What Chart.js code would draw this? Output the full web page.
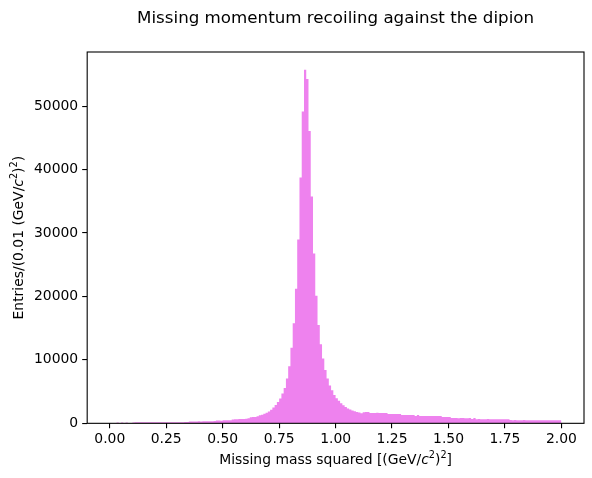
<!DOCTYPE html>
<html>
<head>
<meta charset="utf-8">
<script src="https://cdn.jsdelivr.net/npm/chart.js@4.4.1/dist/chart.umd.min.js"></script>
<style>
  html, body { margin: 0; padding: 0; background: #fff; }
</style>
</head>
<body>
<canvas id="histChart" width="592" height="478"></canvas>
<script>
// histogram: 200 bins of 0.01 from 0.00 to 2.00
const binStart = 0.0;
const binWidth = 0.01;

const counts = [
    // 0.00 - 0.09
    0, 0, 0, 0, 120, 0, 110, 0, 110, 0,
    // 0.10 - 0.19
    0, 140, 150, 150, 160, 150, 150, 160, 150, 160,
    // 0.20 - 0.29
    160, 150, 160, 170, 160, 160, 170, 160, 170, 170,
    // 0.30 - 0.39
    180, 170, 180, 180, 190, 190, 280, 290, 300, 300,
    // 0.40 - 0.49
    310, 300, 310, 320, 320, 330, 340, 350, 450, 460,
    // 0.50 - 0.59
    420, 470, 480, 480, 500, 600, 630, 660, 680, 680,
    // 0.60 - 0.69
    700, 740, 790, 950, 980, 1000, 1100, 1270, 1350, 1500,
    // 0.70 - 0.79
    1650, 1850, 2150, 2500, 2900, 3350, 3900, 4700, 5550, 7050,
    // 0.80 - 0.89
    9000, 11900, 15770, 21200, 28960, 38770, 49160, 55750, 54270, 46090,
    // 0.90 - 0.99
    35760, 26790, 20100, 15510, 12450, 10230, 8390, 7070, 5980, 5200,
    // 1.00 - 1.09
    4480, 3950, 3560, 3150, 2850, 2580, 2350, 2180, 2020, 1920,
    // 1.10 - 1.19
    1800, 1700, 1600, 1750, 1790, 1790, 1640, 1630, 1620, 1650,
    // 1.20 - 1.29
    1630, 1610, 1640, 1620, 1480, 1470, 1460, 1480, 1470, 1450,
    // 1.30 - 1.39
    1310, 1320, 1300, 1310, 1300, 1310, 1160, 1310, 1160, 1170,
    // 1.40 - 1.49
    1150, 1160, 1170, 1150, 1160, 1150, 1160, 1140, 990, 1000,
    // 1.50 - 1.59
    980, 990, 820, 830, 820, 810, 830, 820, 810, 800,
    // 1.60 - 1.69
    820, 680, 830, 660, 670, 650, 660, 650, 670, 660,
    // 1.70 - 1.79
    650, 660, 640, 650, 660, 650, 640, 650, 510, 500,
    // 1.80 - 1.89
    510, 500, 490, 500, 510, 500, 490, 500, 500, 490,
    // 1.90 - 1.99
    500, 490, 500, 490, 480, 490, 500, 490, 480, 490
];

const xTicks = [0.0, 0.25, 0.5, 0.75, 1.0, 1.25, 1.5, 1.75, 2.0];
const yTicks = [0, 10000, 20000, 30000, 40000, 50000];

const titleText = 'Missing momentum recoiling against the dipion';
// label pieces: [text, style]  style: n = normal, i = italic, s = superscript
const xLabelParts = [['Missing mass squared [(GeV/', 'n'], ['c', 'i'], ['2', 's'], [')', 'n'], ['2', 's'], [']', 'n']];
const yLabelParts = [['Entries/(0.01 (GeV/', 'n'], ['c', 'i'], ['2', 's'], [')', 'n'], ['2', 's'], [')', 'n']];

const FONT = 'DejaVu Sans';

// step outline: one point at each bin's left edge, plus the closing right edge
const points = counts.map(function(c, i) {
    return { x: binStart + i * binWidth, y: c };
});
points.push({ x: binStart + counts.length * binWidth, y: counts[counts.length - 1] });

function partFont(style, size) {
    if (style === 'i') return 'italic ' + size + 'px "' + FONT + '"';
    if (style === 's') return Math.round(size * 0.7 * 10) / 10 + 'px "' + FONT + '"';
    return size + 'px "' + FONT + '"';
}

// draws a label made of pieces, centred at (0,0) of the current transform
function drawParts(ctx, parts, size) {
    let total = 0;
    parts.forEach(function(p) {
        ctx.font = partFont(p[1], size);
        total += ctx.measureText(p[0]).width;
    });
    let x = -total / 2;
    ctx.textBaseline = 'alphabetic';
    ctx.textAlign = 'left';
    parts.forEach(function(p) {
        ctx.font = partFont(p[1], size);
        const dy = p[1] === 's' ? -size * 0.42 : 0;
        ctx.fillText(p[0], x, size * 0.36 + dy);
        x += ctx.measureText(p[0]).width;
    });
}

const mplFrame = {
    id: 'mplFrame',
    afterDraw: function(chart) {
        const ctx = chart.ctx;
        const a = chart.chartArea;
        ctx.save();
        ctx.strokeStyle = '#000';
        ctx.lineWidth = 1.1;
        ctx.strokeRect(a.left, a.top, a.right - a.left, a.bottom - a.top);

        ctx.fillStyle = '#000';
        const cx = (a.left + a.right) / 2;

        ctx.font = '16.7px "' + FONT + '"';
        ctx.textAlign = 'center';
        ctx.textBaseline = 'middle';
        ctx.fillText(titleText, cx, 19);

        ctx.save();
        ctx.translate(cx, 459);
        drawParts(ctx, xLabelParts, 13.9);
        ctx.restore();

        ctx.save();
        ctx.translate(18, (a.top + a.bottom) / 2);
        ctx.rotate(-Math.PI / 2);
        drawParts(ctx, yLabelParts, 13.9);
        ctx.restore();

        ctx.restore();
    }
};

Chart.defaults.font.family = FONT;
Chart.defaults.font.size = 13.9;
Chart.defaults.color = '#000';

const ctx = document.getElementById('histChart').getContext('2d');
const histChart = new Chart(ctx, {
    type: 'line',
    data: {
        datasets: [{
            data: points,
            stepped: 'after',
            fill: 'origin',
            backgroundColor: '#ee82ee',
            borderColor: '#ee82ee',
            borderWidth: 0,
            pointRadius: 0,
            pointHoverRadius: 0
        }]
    },
    options: {
        responsive: false,
        animation: false,
        devicePixelRatio: 1,
        layout: { padding: { left: 30, right: 8, top: 52, bottom: 27 } },
        plugins: {
            legend: { display: false },
            tooltip: { enabled: false }
        },
        scales: {
            x: {
                type: 'linear',
                min: binStart - 0.1,
                max: binStart + counts.length * binWidth + 0.1,
                afterBuildTicks: function(axis) {
                    axis.ticks = xTicks.map(function(v) { return { value: v }; });
                },
                ticks: {
                    autoSkip: false,
                    maxRotation: 0,
                    padding: 3,
                    callback: function(v) { return Number(v).toFixed(2); }
                },
                grid: {
                    drawOnChartArea: false,
                    drawTicks: true,
                    tickLength: 5,
                    color: '#000',
                    lineWidth: 1.1
                },
                border: { display: false }
            },
            y: {
                min: 0,
                max: Math.max.apply(null, counts) * 1.05,
                afterBuildTicks: function(axis) {
                    axis.ticks = yTicks.map(function(v) { return { value: v }; });
                },
                ticks: {
                    padding: 4,
                    callback: function(v) { return String(v); }
                },
                grid: {
                    drawOnChartArea: false,
                    drawTicks: true,
                    tickLength: 5,
                    color: '#000',
                    lineWidth: 1.1
                },
                border: { display: false }
            }
        }
    },
    plugins: [mplFrame]
});
</script>
</body>
</html>
